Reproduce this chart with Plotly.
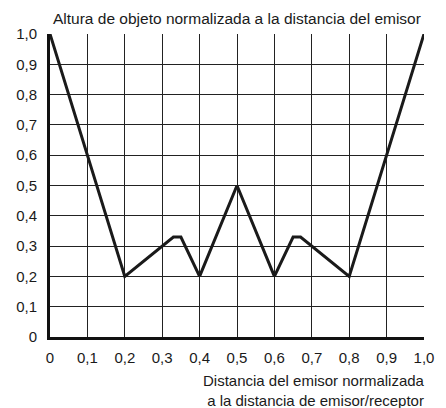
import plotly.graph_objects as go

x_vals = [0, 0.2, 0.33, 0.35, 0.4, 0.5, 0.6, 0.65, 0.67, 0.8, 1.0]
y_vals = [1.0, 0.2, 0.33, 0.33, 0.2, 0.5, 0.2, 0.33, 0.33, 0.2, 1.0]
tick_vals = [0, 0.1, 0.2, 0.3, 0.4, 0.5, 0.6, 0.7, 0.8, 0.9, 1.0]
tick_text = ["0", "0,1", "0,2", "0,3", "0,4", "0,5", "0,6", "0,7", "0,8", "0,9", "1,0"]

title_text = "Altura de objeto normalizada a la distancia del emisor"
xlabel_text = "Distancia del emisor normalizada<br>a la distancia de emisor/receptor"

fig = go.Figure()
fig.add_trace(go.Scatter(x=x_vals, y=y_vals, mode="lines",
                         line=dict(color="#1a1a1a", width=3), showlegend=False))

font = dict(family="Liberation Sans, Arial, sans-serif", size=15, color="#1a1a1a")

fig.update_layout(
    width=446, height=408,
    margin=dict(l=50, r=17, t=34, b=71),
    paper_bgcolor="white", plot_bgcolor="white",
    font=font,
    xaxis=dict(range=[0, 1], tickvals=tick_vals, ticktext=tick_text,
               showgrid=True, gridcolor="#222", gridwidth=1,
               showline=True, linecolor="#111", linewidth=3,
               zeroline=False, ticks="", ticklabelstandoff=5, fixedrange=True),
    yaxis=dict(range=[0, 1], tickvals=tick_vals, ticktext=tick_text,
               showgrid=True, gridcolor="#222", gridwidth=1,
               showline=True, linecolor="#111", linewidth=3,
               zeroline=False, ticks="", ticklabelstandoff=7, fixedrange=True),
    annotations=[
        dict(text=title_text, x=0.5, xref="paper", y=1, yref="paper",
             yshift=16, showarrow=False, xanchor="center", yanchor="middle",
             font=dict(size=15.5)),
        dict(text=xlabel_text, x=1.008, xref="paper", y=0, yref="paper",
             yshift=-33, showarrow=False, xanchor="right", yanchor="top",
             align="right", font=dict(size=15)),
    ],
)

fig.write_html("out.html", config={"displayModeBar": False},
               post_script="document.body.style.margin='0';document.body.style.overflow='hidden';")
